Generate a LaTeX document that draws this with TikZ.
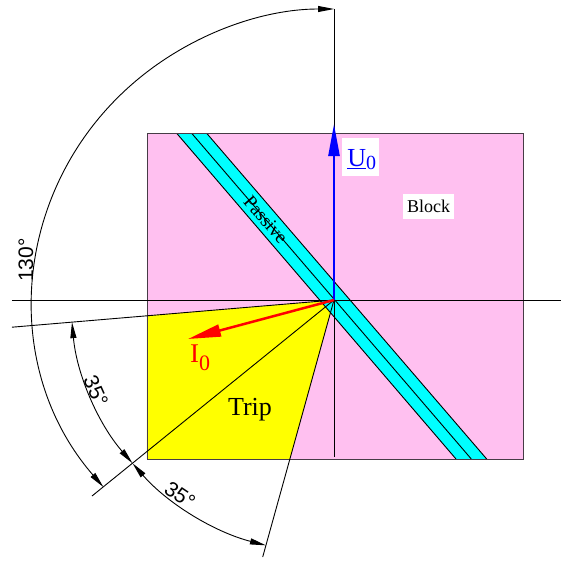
\documentclass[tikz,border=0pt]{standalone}
\usepackage{fontspec}
\setmainfont{Liberation Serif}
\newfontfamily\lsans{Liberation Sans}
\usetikzlibrary{arrows.meta}
\definecolor{pinkfill}{RGB}{255,192,240}
\definecolor{rectedge}{RGB}{70,60,70}
\definecolor{cyanfill}{RGB}{0,255,255}
\definecolor{yellowfill}{RGB}{255,255,0}
\definecolor{vecblue}{RGB}{0,0,255}
\definecolor{vecred}{RGB}{255,0,0}
\begin{document}
\begin{tikzpicture}[x=1pt,y=1pt,
  thinline/.style={line width=0.9pt,black},
  dimtip/.style={line width=0.9pt,{Triangle[length=16pt,width=6pt]}-{Triangle[length=16pt,width=6pt]}},
  dimlabel/.style={font=\lsans\fontsize{21}{21}\selectfont,inner sep=0pt},
  serlabel/.style={inner sep=0pt}]
\useasboundingbox (-334,-260) rectangle (227,300);
\coordinate (O) at (0,0);
\coordinate (RA) at (-187,166.7);
\coordinate (RB) at (189.3,-159);
% regions
\fill[pinkfill] (RA) rectangle (RB);
\coordinate (Y1) at (-187,-15.8);
\coordinate (Y2) at (-187,-159);
\coordinate (Y3) at (-44.1,-159);
\fill[yellowfill] (O) -- (Y1) -- (Y2) -- (Y3) -- cycle;
\coordinate (P1) at (-157.3,166.7);
\coordinate (P2) at (-127.3,166.7);
\coordinate (P3) at (152.7,-159);
\coordinate (P4) at (122,-159);
\coordinate (PC1) at (-142.3,166.7);
\coordinate (PC2) at (137.3,-159);
\fill[cyanfill] (P1) -- (P2) -- (P3) -- (P4) -- cycle;
\draw[thinline] (P1) -- (P4);
\draw[thinline] (P2) -- (P3);
\draw[thinline] (PC1) -- (PC2);
\draw[rectedge,line width=0.9pt] (RA) rectangle (RB);
% axes
\coordinate (HL) at (-322,0);
\coordinate (HR) at (227,0);
\coordinate (VT) at (0,291);
\coordinate (VB) at (0,-157);
\draw[thinline] (HL) -- (HR);
\draw[thinline] (VT) -- (VB);
% radial lines
\coordinate (L185) at (-322,-27.2);
\coordinate (L220) at (-242,-196);
\coordinate (L255) at (-71.3,-257);
\draw[thinline] (O) -- (L185);
\draw[thinline] (O) -- (L220);
\draw[thinline] (O) -- (L255);
% dimension arcs
\draw[dimtip] (220:301pt and 291pt) arc[start angle=220,end angle=90,x radius=301pt,y radius=291pt];
\draw[dimtip] (185:263pt and 254pt) arc[start angle=185,end angle=220,x radius=263pt,y radius=254pt];
\draw[dimtip] (220:263pt and 254pt) arc[start angle=220,end angle=255,x radius=263pt,y radius=254pt];
% vectors
\coordinate (Utip) at (0,176);
\coordinate (Itip) at (-146,-39);
\draw[vecblue,line width=2.5pt,-{Triangle[length=32pt,width=11pt]}] (O) -- (Utip);
\draw[vecred,line width=2.5pt,-{Triangle[length=33pt,width=12pt]}] (O) -- (Itip);
% labels
\node[dimlabel,rotate=90] (a130) at (-308,40) {130°};
\node[dimlabel,rotate=-66] (a35a) at (-238,-91) {35°};
\node[dimlabel,rotate=-34] (a35b) at (-154,-195) {35°};
\node[serlabel,anchor=base,font=\fontsize{26}{26}\selectfont] (trip) at (-84,-115) {Trip};
\node[serlabel,anchor=base west,vecred,font=\fontsize{27}{27}\selectfont] (I0) at (-144,-62) {I\raisebox{-8pt}{\fontsize{22}{22}\selectfont 0}};
\node[fill=white,inner sep=0pt,minimum width=37pt,minimum height=38pt] (U0box) at (26.4,143) {};
\node[serlabel,anchor=base west,vecblue,font=\fontsize{26}{26}\selectfont] (U0) at (13.2,133.3) {\underline{U}\raisebox{-3pt}{\fontsize{20}{20}\selectfont 0}};
\node[fill=white,inner xsep=4pt,inner ysep=6pt,font=\fontsize{18}{18}\selectfont] (block) at (94.5,93.5) {Block};
\node[serlabel,rotate=-49.4,font=\fontsize{19}{19}\selectfont] (passive) at (-68.2,80.3) {Passive};
\end{tikzpicture}
\end{document}
